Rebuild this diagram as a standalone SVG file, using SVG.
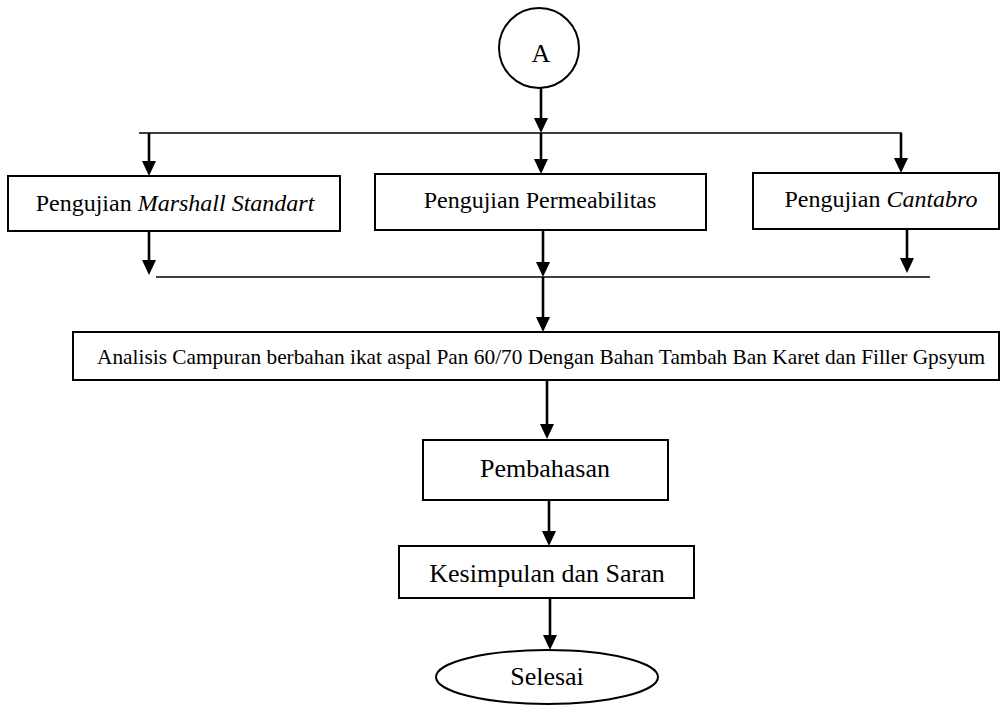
<svg xmlns="http://www.w3.org/2000/svg" width="1001" height="706" viewBox="0 0 1001 706">
<defs>
<marker id="ah" markerUnits="userSpaceOnUse" markerWidth="14" markerHeight="16" refX="7" refY="15" orient="auto-start-reverse" viewBox="0 0 14 16">
<path d="M0,0 L14,0 L7,15 Z" fill="#000" transform="rotate(0)"/>
</marker>
<style>
.box{fill:#fff;stroke:#000;stroke-width:2}
.t{font-family:"Liberation Serif","Times New Roman",serif;fill:#000;text-anchor:middle}
.c{stroke:#000;stroke-width:2.6;fill:none}
.h{stroke:#000;stroke-width:1.4;fill:none}
</style>
</defs>
<rect width="1001" height="706" fill="#fff"/>
<g id="connectors">
<line class="h" x1="139" y1="133" x2="902" y2="133" stroke="#444"/>
<line class="h" x1="156" y1="277" x2="930" y2="277"/>
<path class="c" d="M541,88 V118"/><path d="M534,118 L548,118 L541,133 Z"/>
<path class="c" d="M541,133 V159"/><path d="M534,159 L548,159 L541,174 Z"/>
<path class="c" d="M149,133 V161"/><path d="M142,161 L156,161 L149,176 Z"/>
<path class="c" d="M901,133 V158"/><path d="M894,158 L908,158 L901,173 Z"/>
<path class="c" d="M149,231 V260"/><path d="M142,260 L156,260 L149,275 Z"/>
<path class="c" d="M543,230 V262"/><path d="M536,262 L550,262 L543,277 Z"/>
<path class="c" d="M907,229 V258"/><path d="M900,258 L914,258 L907,273 Z"/>
<path class="c" d="M543,277 V317"/><path d="M536,317 L550,317 L543,332 Z"/>
<path class="c" d="M547,380 V424"/><path d="M540,424 L554,424 L547,439 Z"/>
<path class="c" d="M549,500 V531"/><path d="M542,531 L556,531 L549,546 Z"/>
<path class="c" d="M550,598 V635"/><path d="M543,635 L557,635 L550,650 Z"/>
</g>
<g id="nodeA">
<circle cx="539" cy="48" r="40" fill="#fff" stroke="#000" stroke-width="2"/>
<text class="t" x="541" y="62" font-size="26">A</text>
</g>
<g id="marshall">
<rect class="box" x="8" y="176" width="332" height="55"/>
<text class="t" x="175" y="211" font-size="24">Pengujian <tspan font-style="italic">Marshall Standart</tspan></text>
</g>
<g id="permeabilitas">
<rect class="box" x="375" y="174" width="331" height="56"/>
<text class="t" x="540" y="208" font-size="24">Pengujian Permeabilitas</text>
</g>
<g id="cantabro">
<rect class="box" x="753" y="173" width="246" height="56"/>
<text class="t" x="881" y="207" font-size="24">Pengujian <tspan font-style="italic">Cantabro</tspan></text>
</g>
<g id="analisis">
<rect class="box" x="73" y="332" width="926" height="48"/>
<text class="t" x="541" y="364" font-size="21" textLength="888" lengthAdjust="spacingAndGlyphs">Analisis Campuran berbahan ikat aspal Pan 60/70 Dengan Bahan Tambah Ban Karet dan Filler Gpsyum</text>
</g>
<g id="pembahasan">
<rect class="box" x="423" y="440" width="245" height="60"/>
<text class="t" x="545" y="477" font-size="26">Pembahasan</text>
</g>
<g id="kesimpulan">
<rect class="box" x="399" y="546" width="295" height="52"/>
<text class="t" x="547" y="582" font-size="26">Kesimpulan dan Saran</text>
</g>
<g id="selesai">
<ellipse cx="547" cy="677" rx="111" ry="27" fill="#fff" stroke="#000" stroke-width="2"/>
<text class="t" x="547" y="685" font-size="26">Selesai</text>
</g>
</svg>
